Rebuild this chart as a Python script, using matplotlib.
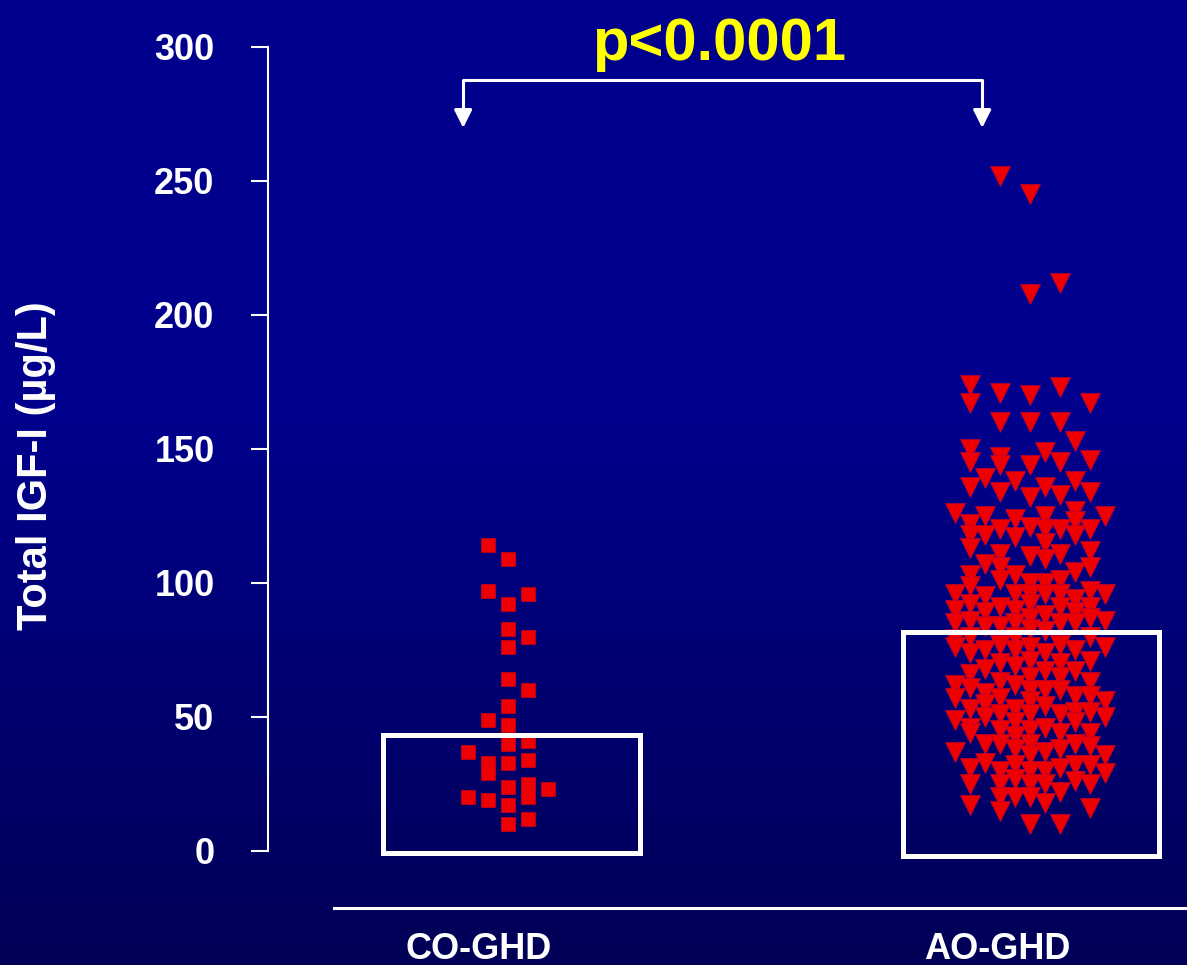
import matplotlib.pyplot as plt
import numpy as np

plt.rcParams['font.family'] = ['Liberation Sans', 'DejaVu Sans']
plt.rcParams['font.weight'] = 'bold'

groups = ["CO-GHD", "AO-GHD"]
medians = [43.3, 81.7]
p_text = "p<0.0001"
y_ticks = [0, 50, 100, 150, 200, 250, 300]

# CO-GHD: strip column (-2..2) and total IGF-I value of each patient
co_col = [-2, -2,
          -1, -1, -1, -1, -1, -1,
          0, 0, 0, 0, 0, 0, 0, 0, 0, 0, 0, 0,
          1, 1, 1, 1, 1, 1, 1, 1,
          2]
co_val = [37, 20,
          114, 97, 49, 33, 29, 19,
          109, 92, 83, 76, 64, 54, 47, 40, 33, 24, 17, 10,
          96, 80, 60, 41, 34, 25, 20, 12,
          23]

# AO-GHD: values per strip column, left to right
ao_strips = [
    [126, 96, 90, 85, 79, 76, 62, 57, 49, 37],
    [174, 167, 150, 145, 136, 122, 118, 113, 103, 99, 92, 86, 80, 74, 66, 61, 53, 46, 44, 31, 25, 17],
    [139, 125, 118, 107, 95, 89, 84, 75, 68, 59, 55, 50, 40, 33],
    [252, 171, 160, 147, 144, 134, 120, 111, 106, 101, 91, 84, 77, 70, 63, 57, 51, 45, 40, 30, 25, 20, 15],
    [138, 124, 117, 103, 96, 90, 85, 80, 75, 69, 62, 53, 48, 43, 38, 32, 27, 20],
    [245, 208, 170, 160, 144, 132, 121, 110, 100, 96, 92, 87, 83, 76, 71, 65, 60, 56, 51, 45, 40, 36, 30, 25, 20, 10],
    [149, 136, 125, 120, 115, 109, 100, 96, 88, 82, 74, 67, 60, 54, 46, 37, 30, 25, 18],
    [212, 173, 160, 145, 133, 120, 111, 101, 96, 91, 85, 77, 70, 65, 60, 51, 44, 38, 31, 22, 10],
    [153, 138, 127, 123, 118, 104, 94, 89, 85, 75, 67, 58, 52, 48, 40, 32, 26],
    [167, 146, 134, 120, 112, 106, 97, 91, 87, 80, 71, 63, 58, 52, 44, 39, 32, 25, 16],
    [125, 96, 86, 76, 56, 50, 36, 29],
]


def main():
    W, H = 1187, 965
    fig = plt.figure(figsize=(W / 100, H / 100), dpi=100)

    # navy background, darker towards the bottom
    bg = fig.add_axes([0, 0, 1, 1], zorder=-1)
    rows = np.arange(H)
    blue = np.interp(rows, [0, 420, H], [0x8C, 0x8C, 0x56]) / 255
    grad = np.zeros((H, 1, 3))
    grad[:, 0, 2] = blue
    bg.imshow(grad, aspect='auto', extent=[0, 1, 0, 1])
    bg.axis('off')

    ax = fig.add_axes([268 / W, 114 / H, (W - 268) / W, 804 / H])
    ax.set_facecolor('none')
    ax.set_ylim(0, 300)
    ax.set_xlim(-0.470, 1.3006)

    # scattered points
    co_x = [c * 20 / 519 - 4 / 519 for c in co_col]
    ax.plot(co_x, co_val, 's', ms=10, color='#ee0000', mec='#d00010', mew=0.5, zorder=2)

    ao_x, ao_y = [], []
    for i, strip in enumerate(ao_strips):
        for v in strip:
            ao_x.append(1 + (i - 5) * 15 / 519 - 1 / 519)
            ao_y.append(v)
    ax.plot(ao_x, ao_y, 'v', ms=14, color='#ee0000', mec='#c00030', mew=0.5, zorder=2)

    # median boxes
    ax.bar([0, 1], [medians[0] + 0.7, medians[1] + 1.9], bottom=[-0.7, -1.9], width=0.495,
           fill=False, edgecolor='white', linewidth=3.6, zorder=3, clip_on=False)

    # axes styling
    for s in ['top', 'right']:
        ax.spines[s].set_visible(False)
    ax.spines['left'].set_color('white')
    ax.spines['left'].set_linewidth(1.5)
    ax.spines['bottom'].set_color('white')
    ax.spines['bottom'].set_linewidth(2.2)
    ax.spines['bottom'].set_position(('data', -21.3))
    ax.spines['bottom'].set_bounds(-0.343, 1.3006)

    ax.set_yticks(y_ticks)
    ax.tick_params(axis='y', colors='white', labelsize=26, length=12, width=1.5, pad=26.5)
    ax.set_xticks(np.arange(len(groups)) - 0.065, groups)
    ax.tick_params(axis='x', colors='white', labelsize=26, length=0, pad=17)

    fig.text(36 / W, 1 - 466 / H, "Total IGF-I (\u00b5g/L)", rotation=90, ha='center', va='center',
             color='white', fontsize=30, fontweight='bold')

    # significance bracket
    left, right, top, tip = -0.094, 0.906, 287.7, 269.8
    ax.plot([left, left, right, right], [tip + 6, top, top, tip + 6], color='white', lw=2.2,
            clip_on=False, zorder=4)
    for x in (left, right):
        ax.annotate('', xy=(x, tip), xytext=(x, tip + 7), annotation_clip=False,
                    arrowprops=dict(arrowstyle='-|>', color='white', lw=2.2, mutation_scale=27,
                                    shrinkA=0, shrinkB=0))
    ax.text(0.4, 295.3, p_text, ha='center', va='baseline', fontsize=43, color='yellow',
            fontweight='bold', clip_on=False)

    fig.savefig("out.png", dpi=100)


if __name__ == "__main__":
    main()
